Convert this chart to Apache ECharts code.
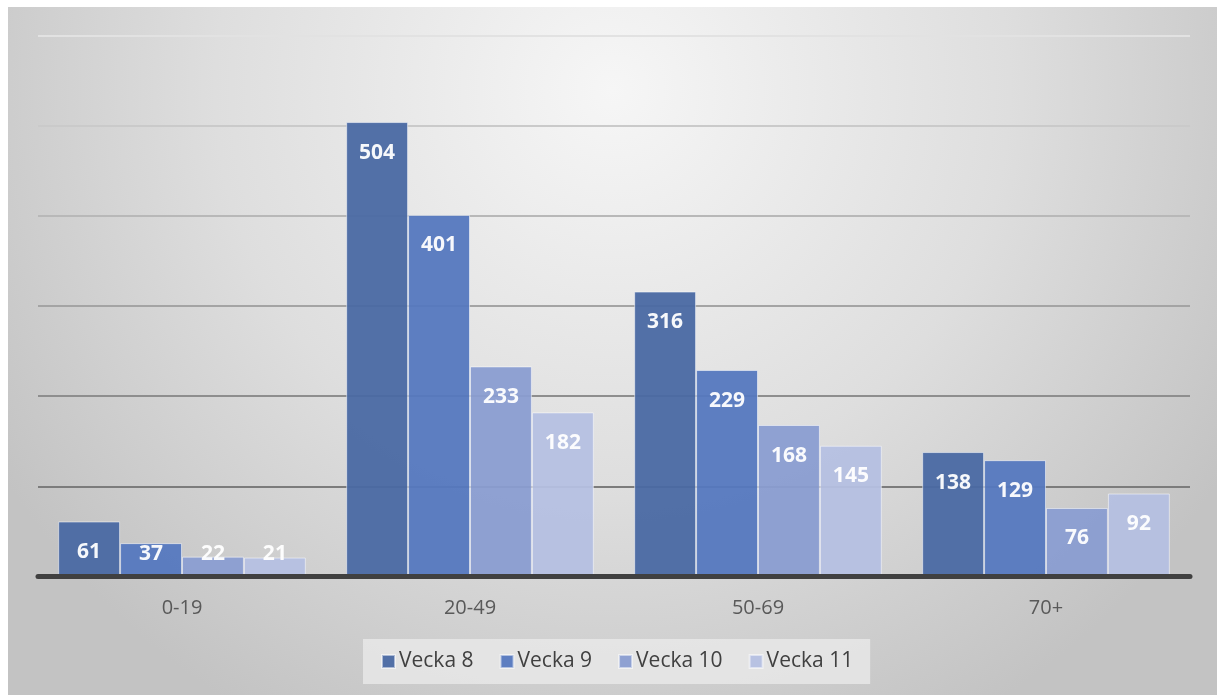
<!DOCTYPE html>
<html>
<head>
<meta charset="utf-8">
<script src="https://cdn.jsdelivr.net/npm/echarts@6/dist/echarts.min.js"></script>
<style>
  html, body { margin: 0; padding: 0; background: #fff; }
  #chart { width: 1217px; height: 695px; }
</style>
</head>
<body>
<div id="chart"></div>
<script>
const categories = ['0-19', '20-49', '50-69', '70+'];
const seriesNames = ['Vecka 8', 'Vecka 9', 'Vecka 10', 'Vecka 11'];
const vecka8 = [61, 504, 316, 138];
const vecka9 = [37, 401, 229, 129];
const vecka10 = [22, 233, 168, 76];
const vecka11 = [21, 182, 145, 92];

const colors = ['#4a69a3', '#5578bf', '#8a9dd1', '#b5c0e1'];
const gridColors = ['#404040', '#7c7c7c', '#8e8e8e', '#a4a4a4', '#b8b8b8', '#cacaca', '#e2e2e2'];

const chart = echarts.init(document.getElementById('chart'));

function makeSeries(name, values, i) {
  return {
    name,
    type: 'bar',
    barGap: 0,
    barCategoryGap: '14%',
    itemStyle: { color: colors[i], borderColor: 'rgba(255,255,255,0.55)', borderWidth: 1, opacity: 0.95 },
    label: {
      show: true,
      position: 'insideTop',
      distance: 20,
      color: '#fff',
      fontFamily: 'Open Sans',
      fontWeight: 'bold',
      fontSize: 21
    },
    data: values.map(v => v < 50
      ? { value: v, label: { position: 'insideBottom', distance: 12 } }
      : v)
  };
}

chart.setOption({
  animation: false,
  graphic: [{
    type: 'rect',
    z: -10,
    shape: { x: 8, y: 7, width: 1209, height: 688 },
    style: {
      fill: {
        type: 'radial', x: 0.5, y: 0.12, r: 1.05,
        colorStops: [
          { offset: 0, color: '#f6f6f6' },
          { offset: 0.55, color: '#dedede' },
          { offset: 1, color: '#c3c3c3' }
        ]
      }
    }
  }],
  legend: {
    data: seriesNames,
    left: 363,
    top: 639,
    padding: [12, 17, 12, 18],
    backgroundColor: 'rgba(235,235,235,0.75)',
    itemWidth: 13,
    itemHeight: 13,
    itemGap: 26,
    icon: 'rect',
    textStyle: { color: '#404040', fontFamily: 'Open Sans', fontSize: 21, padding: [0, 0, 0, -1] }
  },
  grid: { left: 38, right: 27, top: 35.5, bottom: 118.5, containLabel: false },
  xAxis: {
    type: 'category',
    data: categories,
    axisLine: { show: true, lineStyle: { color: '#404040', width: 5 } },
    axisTick: { show: false },
    axisLabel: { color: '#595959', fontFamily: 'Open Sans', fontSize: 20, margin: 22 },
    z: 10
  },
  yAxis: {
    type: 'value',
    min: 0,
    max: 600,
    interval: 100,
    axisLine: { show: false },
    axisTick: { show: false },
    axisLabel: { show: false },
    splitLine: { show: true, lineStyle: { color: gridColors, width: 2 } }
  },
  series: [
    makeSeries(seriesNames[0], vecka8, 0),
    makeSeries(seriesNames[1], vecka9, 1),
    makeSeries(seriesNames[2], vecka10, 2),
    makeSeries(seriesNames[3], vecka11, 3)
  ]
});

window.addEventListener('resize', () => chart.resize());
</script>
</body>
</html>
